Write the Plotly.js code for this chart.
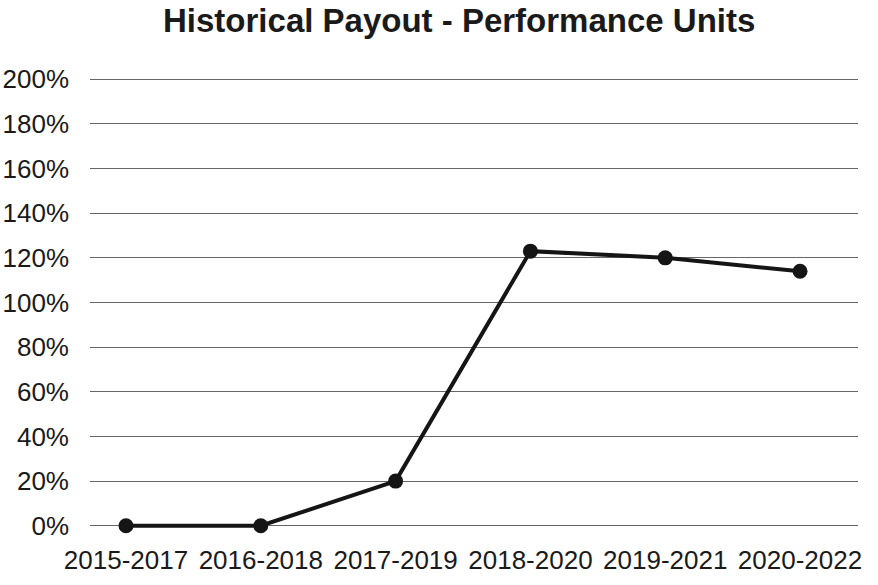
<!DOCTYPE html>
<html>
<head>
<meta charset="utf-8">
<script src="https://cdn.plot.ly/plotly-3.0.1.min.js"></script>
<style>html,body{margin:0;padding:0;background:#fff;}#chart{width:878px;height:585px;}</style>
</head>
<body>
<div id="chart"></div>
<script>
const periods = ['2015-2017','2016-2018','2017-2019','2018-2020','2019-2021','2020-2022'];
const payoutPct = [0, 0, 20, 123, 120, 114];
const yTickVals = [0,20,40,60,80,100,120,140,160,180,200];

const trace = {
  x: periods,
  y: payoutPct,
  type: 'scatter',
  mode: 'lines+markers',
  line: {color: '#151515', width: 4},
  marker: {color: '#151515', size: 15},
  cliponaxis: false,
  hoverinfo: 'x+y'
};

const layout = {
  width: 878, height: 585,
  margin: {l: 90, r: 20, t: 77, b: 57},
  paper_bgcolor: '#ffffff',
  plot_bgcolor: '#ffffff',
  font: {family: 'Liberation Sans, Arial, sans-serif', color: '#1a1a1a'},
  title: {
    text: '<b>Historical Payout - Performance Units</b>',
    font: {size: 33, color: '#1a1a1a', family: 'Liberation Sans, Arial, sans-serif'},
    x: 0.523, xanchor: 'center', y: 0.965, yanchor: 'middle'
  },
  showlegend: false,
  xaxis: {
    type: 'category',
    range: [-0.267, 5.43],
    showgrid: false, zeroline: false, showline: false,
    ticks: '',
    tickfont: {size: 26, color: '#1a1a1a'},
    ticklabelstandoff: 14
  },
  yaxis: {
    range: [-1, 201],
    tickvals: yTickVals,
    ticktext: yTickVals.map(v => v + '%'),
    showgrid: true, gridcolor: '#666666', gridwidth: 1,
    zeroline: false, showline: false,
    ticks: '',
    tickfont: {size: 26, color: '#1a1a1a'},
    ticklabelstandoff: 20
  }
};

Plotly.newPlot('chart', [trace], layout, {displayModeBar: false, staticPlot: true});
</script>
</body>
</html>
